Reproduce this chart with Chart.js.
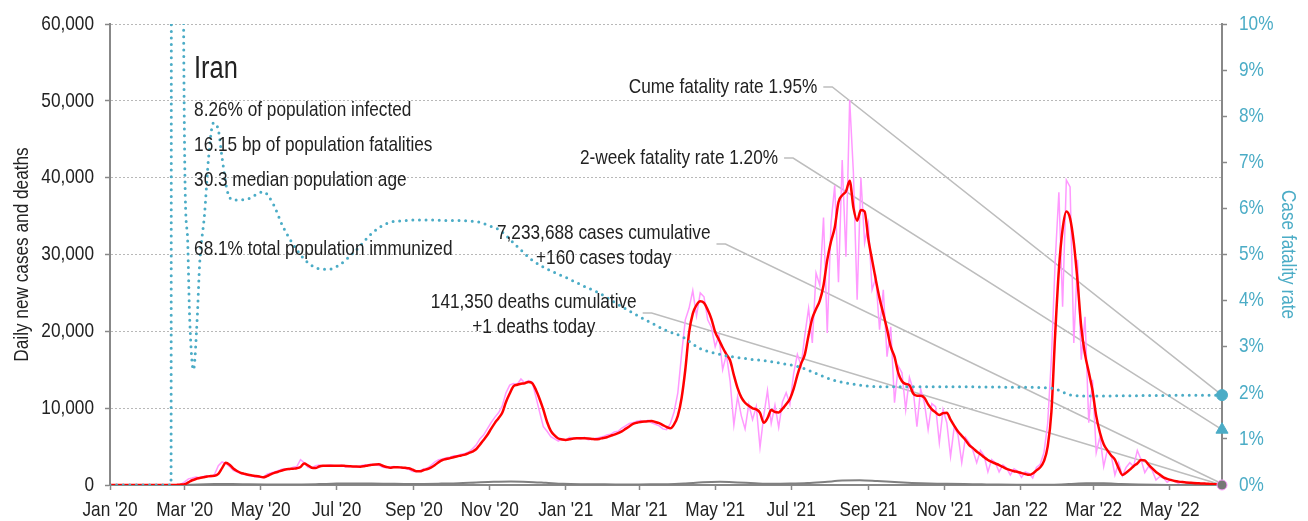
<!DOCTYPE html>
<html>
<head>
<meta charset="utf-8">
<script src="https://cdn.jsdelivr.net/npm/chart.js@4.4.1/dist/chart.umd.min.js"></script>
<style>
  html, body { margin: 0; padding: 0; background: #fff; }
</style>
</head>
<body>
<canvas id="chart" width="1308" height="521"></canvas>
<script>
// Iran: daily cases, 7-day average, deaths and case fatality rate
const startDate = '2020-01-01';
const lastDate = '2022-06-12';
const gridStep = 3;    // days between case samples
const deathStep = 14;  // days between death samples

// daily new cases, one value every 3 days from 1 Jan 2020
const casesDaily = [
  0, 0, 0, 0, 0, 0, 0, 0, 0, 0,
  0, 0, 0, 0, 0, 0, 0, 10, 40, 100,
  400, 800, 900, 1050, 950, 1100, 1200, 1050, 1400, 2500,
  3000, 2800, 2400, 1900, 1700, 1500, 1350, 1250, 1180, 1050,
  1000, 950, 1400, 1550, 1700, 1850, 2050, 2100, 2000, 2300,
  2400, 3300, 2900, 2300, 2200, 2500, 2600, 2450, 2550, 2600,
  2500, 2450, 2600, 2350, 2450, 2400, 2300, 2500, 2600, 2650,
  2700, 2600, 2550, 2300, 2250, 2350, 2400, 2300, 2200, 2150,
  2050, 1750, 1750, 1900, 2100, 2200, 2600, 3000, 3300, 3400,
  3550, 3600, 3800, 3850, 4000, 4100, 4300, 4700, 5200, 6000,
  6500, 7300, 8100, 8800, 9400, 10300, 12000, 13000, 13200, 13100,
  13800, 13300, 13600, 13400, 11500, 9500, 7600, 7000, 6300, 6000,
  5700, 6000, 5800, 6200, 6000, 6100, 6000, 6200, 5900, 5950,
  6100, 6200, 6300, 6500, 6600, 6900, 7000, 7400, 7700, 8000,
  8100, 8300, 8400, 8200, 8400, 8100, 7900, 7700, 7300, 7200,
  8000, 9500, 12000, 17000, 21500, 23000, 25300, 22000, 25000, 24500,
  21500, 20500, 18000, 19500, 15000, 17000, 13500, 7800, 11500, 9000,
  7300, 10500, 8500, 10200, 4900, 9000, 12300, 8000, 10400, 7500,
  10800, 12000, 10500, 14500, 17000, 15500, 19500, 23000, 18500, 27600,
  26000, 34800, 19800, 34000, 39000, 26400, 42300, 29700, 50100, 40600,
  24100, 40000, 31500, 34000, 25400, 27000, 20200, 25400, 16700, 20600,
  10700, 15500, 14600, 9800, 14000, 12400, 7600, 12500, 10700, 7200,
  10600, 10200, 5500, 9800, 8100, 3700, 7600, 6500, 2900, 6200,
  5500, 4500, 2900, 4500, 3800, 1700, 3300, 2900, 1700, 2600,
  2200, 1300, 2100, 1800, 1000, 1700, 1500, 900, 2300, 2700,
  4200, 8000, 16500, 29000, 38100, 23200, 39700, 38800, 18500, 29300,
  16300, 21900, 8100, 13700, 4200, 6300, 2400, 4600, 3900, 1300,
  2900, 1200, 2300, 2900, 2400, 4500, 3300, 1600, 2400, 1900,
  650, 1100, 900, 350, 700, 500, 200, 450, 320, 150,
  300, 220, 100, 190, 140, 60, 120, 160
];

// 7-day average of new cases, same 3-day spacing
const casesAvg = [
  0, 0, 0, 0, 0, 0, 0, 0, 0, 0,
  0, 0, 0, 0, 0, 0, 0, 0, 20, 50,
  90, 350, 620, 790, 900, 1000, 1100, 1180, 1200, 1450,
  2200, 2900, 2650, 2150, 1820, 1580, 1450, 1330, 1250, 1180,
  1100, 1000, 1150, 1380, 1580, 1720, 1880, 2020, 2080, 2120,
  2180, 2350, 2800, 2550, 2250, 2200, 2400, 2500, 2520, 2510,
  2510, 2520, 2510, 2480, 2450, 2420, 2400, 2390, 2450, 2550,
  2620, 2680, 2690, 2500, 2350, 2250, 2320, 2320, 2280, 2230,
  2170, 2000, 1780, 1780, 1950, 2080, 2300, 2600, 2980, 3250,
  3380, 3500, 3620, 3730, 3850, 3960, 4150, 4350, 4650, 5250,
  5850, 6500, 7300, 8050, 8700, 9400, 10800, 11900, 12850, 13050,
  13170, 13230, 13400, 13250, 12400, 11200, 9800, 8200, 7050, 6450,
  6050, 5930, 5870, 5950, 6050, 6070, 6070, 6070, 6050, 6000,
  5950, 6000, 6120, 6220, 6400, 6560, 6750, 6980, 7300, 7620,
  7940, 8100, 8200, 8260, 8300, 8320, 8200, 8050, 7800, 7550,
  7380, 7900, 9000, 11300, 15000, 19800, 22300, 23400, 23900, 23700,
  22800, 21600, 19900, 18900, 17900, 17000, 16200, 14300, 12600, 11400,
  10700, 10300, 9980, 9850, 9400, 8100, 8700, 9750, 9500, 9450,
  9900, 10500, 11200, 12500, 14300, 15800, 17000, 19500, 21700, 22900,
  24000, 26000, 29300, 31700, 33500, 36800, 37700, 38200, 39600, 36100,
  34400, 35800, 35600, 32000, 29300, 26700, 24300, 22300, 20300, 18000,
  16700, 14600, 13500, 13150, 13000, 11900, 11600, 11600, 11350, 10500,
  9850, 9450, 9110, 9350, 9400, 8500, 7700, 6950, 6400, 5850,
  5200, 4800, 4350, 4000, 3600, 3250, 3000, 2800, 2600, 2350,
  2100, 1930, 1800, 1700, 1550, 1430, 1320, 1500, 1900, 2300,
  3100, 5000, 9500, 19500, 28000, 33300, 35600, 34700, 31500, 26500,
  20500, 17000, 14700, 12300, 9000, 6800, 5300, 4500, 3850, 3300,
  2200, 1300, 1600, 2000, 2450, 2800, 3250, 3200, 2650, 2150,
  1700, 1350, 1000, 800, 650, 520, 440, 380, 340, 300,
  260, 230, 210, 180, 150, 120, 90, 70
];

// 7-day average of deaths, one value every 14 days
const deathsAvg = [
  0, 0, 0, 0, 5, 80, 130, 140, 90, 60,
  55, 70, 120, 180, 210, 190, 160, 130, 140, 180,
  230, 330, 420, 460, 400, 280, 150, 100, 90, 80,
  80, 85, 100, 200, 350, 410, 330, 220, 150, 180,
  250, 400, 570, 630, 520, 380, 260, 180, 150, 120,
  90, 60, 40, 30, 40, 120, 230, 220, 130, 60,
  20, 10, 5, 2
];

// case fatality rate (%), day number and value
const cfrDays = [0, 49, 50, 58, 59, 62, 64, 67, 70, 72, 76, 79, 83, 87, 90, 94, 99, 110, 123, 131,
  139, 152, 160, 168, 176, 184, 192, 200, 208, 217, 225, 233, 254, 270, 286, 297, 305, 313, 326, 339,
  353, 367, 380, 393, 406, 420, 433, 446, 460, 473, 487, 500, 514, 527, 541, 554, 567, 580, 594, 607,
  631, 685, 730, 757, 764, 772, 790, 830, 893];
const cfrRate = [0, 0, 60, 60, 10.5, 5.5, 3.6, 2.5, 3.6, 4.8, 5.9, 7.05, 7.85, 7.7, 7.1, 6.4, 6.18, 6.2, 6.36, 6.1,
  5.6, 5.03, 4.8, 4.69, 4.68, 4.77, 4.95, 5.16, 5.4, 5.6, 5.7, 5.73, 5.75, 5.74, 5.73, 5.7, 5.62, 5.53, 5.2, 4.88,
  4.66, 4.49, 4.32, 4.16, 3.95, 3.73, 3.54, 3.36, 3.21, 2.97, 2.85, 2.78, 2.73, 2.69, 2.63, 2.56, 2.42, 2.28, 2.2, 2.15,
  2.13, 2.13, 2.12, 2.1, 2.03, 1.95, 1.93, 1.94, 1.95];

// headline numbers
const totalCases = 7233688;
const totalDeaths = 141350;
const casesToday = 160;
const deathsToday = 1;
const cumeRate = 1.95;
const twoWeekRate = 1.20;

const tickDates = ['2020-01-01', '2020-03-01', '2020-05-01', '2020-07-01', '2020-09-01', '2020-11-01',
  '2021-01-01', '2021-03-01', '2021-05-01', '2021-07-01', '2021-09-01', '2021-11-01',
  '2022-01-01', '2022-03-01', '2022-05-01'];
const tickLabels = ["Jan '20", "Mar '20", "May '20", "Jul '20", "Sep '20", "Nov '20",
  "Jan '21", "Mar '21", "May '21", "Jul '21", "Sep '21", "Nov '21",
  "Jan '22", "Mar '22", "May '22"];

const dayOf = s => Math.round((Date.parse(s) - Date.parse(startDate)) / 864e5);
const tickDays = tickDates.map(dayOf);
const lastDay = dayOf(lastDate);

const FONT = "'Liberation Sans', Arial, sans-serif";
const SQUEEZE = 0.82; // narrow the glyphs horizontally
const CYAN = '#4bacc6';
const INK = '#222';

const info = [
  { text: 'Iran', value: 54100, size: 31 },
  { text: '8.26% of population infected', value: 48800 },
  { text: '16.15 bp of population fatalities', value: 44250 },
  { text: '30.3 median population age', value: 39700 },
  { text: '68.1% total population immunized', value: 30720 }
];
const infoDay = 67.5;

const notes = [
  { lines: ['Cume fatality rate ' + cumeRate.toFixed(2) + '%'], day: 568, value: 51800, align: 'right', drop: 0, axis: 'y1', to: cumeRate },
  { lines: ['2-week fatality rate ' + twoWeekRate.toFixed(2) + '%'], day: 536.5, value: 42560, align: 'right', drop: 0, axis: 'y1', to: twoWeekRate },
  { lines: [totalCases.toLocaleString('en-US') + ' cases cumulative', '+' + casesToday + ' cases today'], day: 396.5, value: 32800, align: 'center', drop: 11, axis: 'y', to: casesToday },
  { lines: [totalDeaths.toLocaleString('en-US') + ' deaths cumulative', '+' + deathsToday + ' deaths today'], day: 340.3, value: 23820, align: 'center', drop: 11, axis: 'y', to: deathsToday }
];

// draws narrowed text centred vertically on (x, y)
function say(ctx, text, x, y, size, align, color, rotate) {
  ctx.save();
  ctx.translate(x, y);
  if (rotate) ctx.rotate(rotate);
  ctx.scale(SQUEEZE, 1);
  ctx.font = size + 'px ' + FONT;
  ctx.fillStyle = color || INK;
  ctx.textAlign = align || 'left';
  ctx.textBaseline = 'middle';
  ctx.fillText(text, 0, 0);
  ctx.restore();
}

function textWidth(ctx, text, size) {
  ctx.save();
  ctx.font = size + 'px ' + FONT;
  const w = ctx.measureText(text).width * SQUEEZE;
  ctx.restore();
  return w;
}

const textPlugin = {
  id: 'notes',
  beforeDatasetsDraw(chart) {
    const { ctx, scales: { x, y } } = chart;
    ctx.save();
    ctx.strokeStyle = '#bdbdbd';
    ctx.lineWidth = 1.5;
    notes.forEach(n => {
      const ax = x.getPixelForValue(n.day);
      const ay = y.getPixelForValue(n.value);
      const w = Math.max(...n.lines.map(t => textWidth(ctx, t, 21)));
      const right = n.align === 'right' ? ax : ax + w / 2;
      const sx = right + 6, sy = ay + n.drop;
      ctx.beginPath();
      ctx.moveTo(sx, sy);
      ctx.lineTo(sx + 9, sy);
      ctx.lineTo(x.getPixelForValue(lastDay), chart.scales[n.axis].getPixelForValue(n.to));
      ctx.stroke();
    });
    ctx.restore();
  },
  afterDatasetsDraw(chart) {
    const { ctx, scales: { x, y } } = chart;
    info.forEach(r => {
      say(ctx, r.text, x.getPixelForValue(infoDay), y.getPixelForValue(r.value), r.size || 21, 'left');
    });
    notes.forEach(n => {
      const ax = x.getPixelForValue(n.day);
      const ay = y.getPixelForValue(n.value);
      n.lines.forEach((t, i) => say(ctx, t, ax, ay + i * 25, 21, n.align));
    });
  },
  afterDraw(chart) {
    const { ctx, chartArea, scales: { x, y, y1 } } = chart;
    const mid = (chartArea.top + chartArea.bottom) / 2;
    y.ticks.forEach(t => say(ctx, t.value.toLocaleString('en-US'), y.right - 16, y.getPixelForValue(t.value), 21, 'right'));
    y1.ticks.forEach(t => say(ctx, t.value + '%', y1.left + 17, y1.getPixelForValue(t.value), 21, 'left', CYAN));
    tickDays.forEach((d, i) => say(ctx, tickLabels[i], x.getPixelForValue(d), x.top + 25, 21, 'center'));
    say(ctx, 'Daily new cases and deaths', y.left + 22, mid, 21, 'center', INK, -Math.PI / 2);
    say(ctx, 'Case fatality rate', y1.right - 20, mid, 21, 'center', CYAN, Math.PI / 2);
  }
};

const pts = (arr, step) => arr.map((v, i) => ({ x: i * step, y: v }));

new Chart(document.getElementById('chart'), {
  type: 'line',
  data: {
    datasets: [
      { data: [{ x: lastDay, y: cumeRate }], yAxisID: 'y1', pointStyle: 'circle', pointRadius: 5.5,
        backgroundColor: CYAN, borderColor: CYAN, showLine: false, clip: false },
      { data: [{ x: lastDay, y: twoWeekRate }], yAxisID: 'y1', pointStyle: 'triangle', pointRadius: 7,
        backgroundColor: CYAN, borderColor: CYAN, showLine: false, clip: false },
      { data: [{ x: lastDay, y: deathsToday }], yAxisID: 'y', pointStyle: 'circle', pointRadius: 5,
        backgroundColor: '#777', borderColor: '#ff99ff', borderWidth: 1, showLine: false, clip: false },
      { data: cfrDays.map((d, i) => ({ x: d, y: cfrRate[i] })), yAxisID: 'y1', borderColor: CYAN,
        borderWidth: 3, borderDash: [0, 6.6], borderCapStyle: 'round', pointRadius: 0, cubicInterpolationMode: 'monotone' },
      { data: pts(casesAvg, gridStep), yAxisID: 'y', borderColor: '#ff0000', borderWidth: 2.5,
        pointRadius: 0, cubicInterpolationMode: 'monotone' },
      { data: pts(deathsAvg, deathStep), yAxisID: 'y', borderColor: '#808080', borderWidth: 2,
        pointRadius: 0, cubicInterpolationMode: 'monotone' },
      { data: pts(casesDaily, gridStep), yAxisID: 'y', borderColor: '#ff99ff', borderWidth: 1.5,
        pointRadius: 0, tension: 0 }
    ]
  },
  options: {
    responsive: false,
    animation: false,
    layout: { padding: { top: 24, left: 0, right: 0, bottom: 0 } },
    plugins: { legend: { display: false }, tooltip: { enabled: false } },
    scales: {
      x: {
        type: 'linear',
        min: 0,
        max: lastDay,
        afterBuildTicks: s => { s.ticks = tickDays.map(v => ({ value: v })); },
        afterFit: s => { s.height = 36; },
        grid: { drawOnChartArea: false, drawTicks: true, tickLength: 5, tickColor: '#888', tickWidth: 1.5 },
        border: { display: true, color: '#888', width: 2 },
        ticks: { display: false, autoSkip: false }
      },
      y: {
        position: 'left',
        min: 0,
        max: 60000,
        afterFit: s => { s.width = 110; },
        grid: { color: '#b8b8b8', lineWidth: 1, tickLength: 5, tickColor: '#888', tickWidth: 1.5 },
        border: { display: true, color: '#888', width: 2, dash: [2, 2] },
        ticks: { display: false, stepSize: 10000 }
      },
      y1: {
        position: 'right',
        min: 0,
        max: 10,
        afterFit: s => { s.width = 86; },
        grid: { drawOnChartArea: false, tickLength: 5, tickColor: '#888', tickWidth: 1.5 },
        border: { display: true, color: '#888', width: 2 },
        ticks: { display: false, stepSize: 1 }
      }
    }
  },
  plugins: [textPlugin]
});
</script>
</body>
</html>
